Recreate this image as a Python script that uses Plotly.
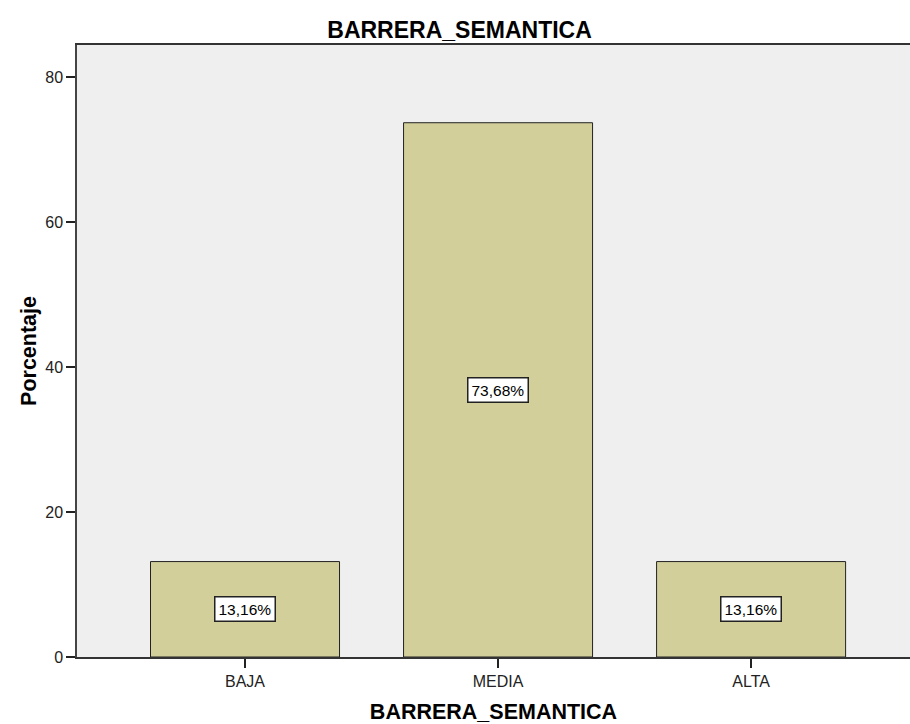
import plotly.graph_objects as go

categories = ["BAJA", "MEDIA", "ALTA"]
percentages = [13.16, 73.68, 13.16]
labels = ["13,16%", "73,68%", "13,16%"]
y_ticks = [0, 20, 40, 60, 80]

FONT = "Liberation Sans, Arial, sans-serif"

fig = go.Figure()
fig.add_trace(go.Bar(
    x=list(range(len(categories))),
    y=percentages,
    width=0.747,
    marker=dict(color="#D3CF9B", line=dict(color="#222222", width=1)),
    hoverinfo="skip",
))

for i, (v, t) in enumerate(zip(percentages, labels)):
    fig.add_annotation(
        x=i, y=v / 2, text=t, showarrow=False,
        font=dict(family=FONT, size=15.5, color="black"),
        bgcolor="white", bordercolor="#222222", borderwidth=1.5, borderpad=3,
    )

fig.update_layout(
    width=910, height=724,
    margin=dict(l=77, r=0, t=45, b=67),
    paper_bgcolor="white",
    plot_bgcolor="#EFEFEF",
    showlegend=False,
    title=dict(text="<b>BARRERA_SEMANTICA</b>", x=0.505, xanchor="center", y=0.959, yanchor="middle",
               font=dict(family=FONT, size=23, color="black")),
    font=dict(family=FONT, size=15.5, color="#222222"),
)

fig.update_xaxes(
    range=[-0.664, 2.628],
    tickmode="array", tickvals=list(range(len(categories))), ticktext=categories,
    ticks="outside", ticklen=9, tickcolor="#222222", tickwidth=1.5,
    showline=True, linecolor="#333333", linewidth=1.5, mirror=True,
    showgrid=False, zeroline=False,
    tickfont=dict(family=FONT, size=16, color="#222222"),
    title=dict(text="<b>BARRERA_SEMANTICA</b>", standoff=15,
               font=dict(family=FONT, size=21.5, color="black")),
)
fig.update_yaxes(
    range=[0, 84.4],
    tickmode="array", tickvals=y_ticks, ticktext=[str(v) for v in y_ticks],
    ticks="outside", ticklen=9, tickcolor="#222222", tickwidth=1.5,
    showline=True, linecolor="#444444", linewidth=1.5,
    showgrid=False, zeroline=False,
    tickfont=dict(family=FONT, size=16, color="#222222"),
    title=dict(text="<b>Porcentaje</b>", standoff=3,
               font=dict(family=FONT, size=21.5, color="black")),
)

fig.write_html("out.html")
